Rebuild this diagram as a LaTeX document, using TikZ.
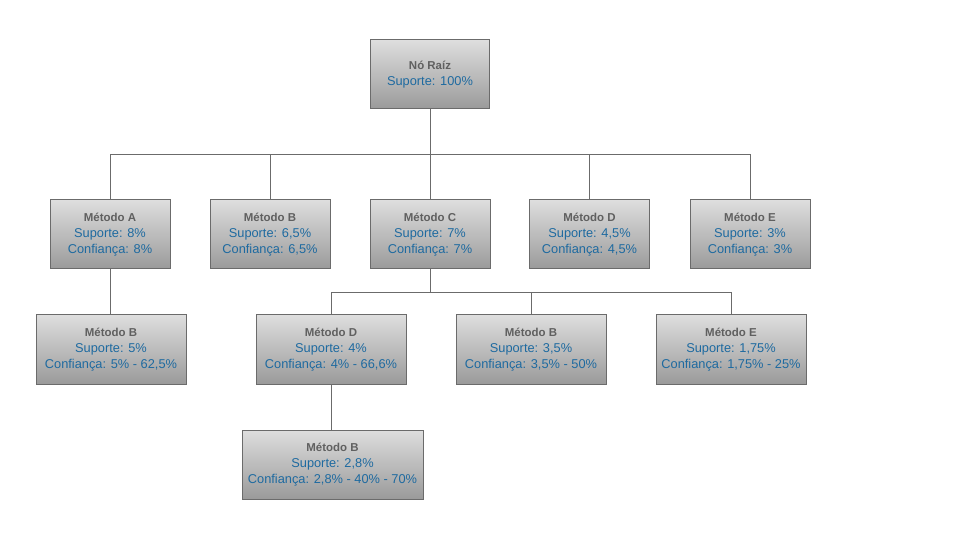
\documentclass[tikz,border=0pt]{standalone}
\usepackage{fontspec}
\setmainfont{Liberation Sans}
\definecolor{boxline}{HTML}{6B6B6B}
\definecolor{boxtop}{HTML}{DEDEDE}
\definecolor{boxbottom}{HTML}{9A9A9A}
\definecolor{titlegray}{HTML}{606060}
\definecolor{valueblue}{HTML}{1E6AA0}
\newcommand{\nodetext}[2]{{\fontsize{8.6}{12}\selectfont\bfseries\color{titlegray}#1}\\#2}
\begin{document}
\begin{tikzpicture}[x=0.75pt,y=-0.75pt]
\tikzstyle{box}=[rectangle,draw=boxline,line width=0.75pt,top color=boxtop,bottom color=boxbottom,
  minimum height=51.75pt,inner sep=0pt,align=center,text=valueblue,
  font=\fontsize{9.6}{12}\selectfont]
\tikzstyle{link}=[draw=boxline,line width=0.75pt]
\useasboundingbox (0,0) rectangle (971,538);

% root
\node[box,minimum width=89.25pt] (0) at (430,74.5) {\nodetext{Nó Raíz}{Suporte: 100\%}};

% first level
\node[box,minimum width=90pt] (1) at (110,234.5) {\nodetext{Método A}{Suporte: 8\%\\Confiança: 8\%}};
\node[box,minimum width=90pt] (2) at (270,234.5) {\nodetext{Método B}{Suporte: 6,5\%\\Confiança: 6,5\%}};
\node[box,minimum width=90pt] (3) at (430,234.5) {\nodetext{Método C}{Suporte: 7\%\\Confiança: 7\%}};
\node[box,minimum width=90pt] (4) at (589.5,234.5) {\nodetext{Método D}{Suporte: 4,5\%\\Confiança: 4,5\%}};
\node[box,minimum width=90pt] (5) at (750,234.5) {\nodetext{Método E}{Suporte: 3\%\\Confiança: 3\%}};

% second level
\node[box,minimum width=112.5pt] (6) at (111,349.5) {\nodetext{Método B}{Suporte: 5\%\\Confiança: 5\% - 62,5\%}};
\node[box,minimum width=112.5pt] (7) at (331,349.5) {\nodetext{Método D}{Suporte: 4\%\\Confiança: 4\% - 66,6\%}};
\node[box,minimum width=112.5pt] (8) at (531,349.5) {\nodetext{Método B}{Suporte: 3,5\%\\Confiança: 3,5\% - 50\%}};
\node[box,minimum width=112.5pt] (9) at (731,349.5) {\nodetext{Método E}{Suporte: 1,75\%\\Confiança: 1,75\% - 25\%}};

% third level
\node[box,minimum width=135.75pt] (10) at (332.5,464.5) {\nodetext{Método B}{Suporte: 2,8\%\\Confiança: 2,8\% - 40\% - 70\%}};

\coordinate (b0) at (430,155);
\coordinate (b3) at (430,293);

\path[link] (0.south) -- (b0) -| (1.north);
\path[link] (b0) -| (2.north);
\path[link] (b0) -- (3.north);
\path[link] (b0) -| (4.north);
\path[link] (b0) -| (5.north);

\path[link] (1.south) -- (1.south |- 6.north);
\path[link] (3.south) -- (b3) -| (7.north);
\path[link] (b3) -| (8.north);
\path[link] (b3) -| (9.north);

\path[link] (7.south) -- (7.south |- 10.north);
\end{tikzpicture}
\end{document}
